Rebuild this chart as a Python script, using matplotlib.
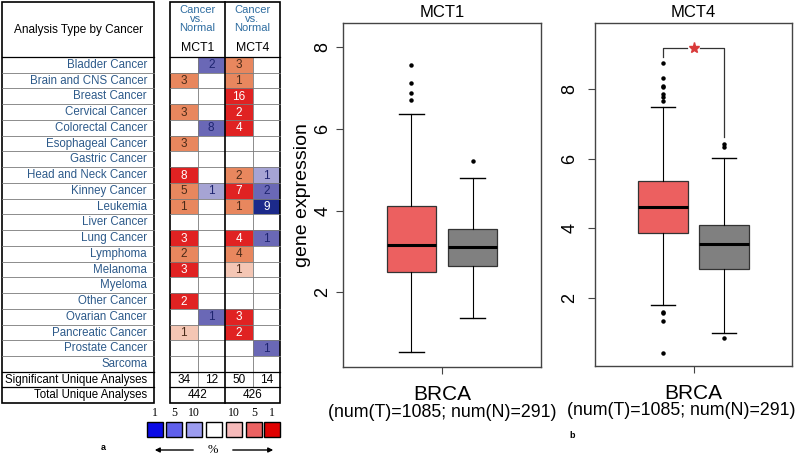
import matplotlib.pyplot as plt
from matplotlib.patches import Rectangle

plt.rcParams['font.family'] = ['Liberation Sans', 'DejaVu Sans']

# ---- panel a: Oncomine summary table ----
cancers = ['Bladder Cancer', 'Brain and CNS Cancer', 'Breast Cancer', 'Cervical Cancer',
           'Colorectal Cancer', 'Esophageal Cancer', 'Gastric Cancer', 'Head and Neck Cancer',
           'Kinney Cancer', 'Leukemia', 'Liver Cancer', 'Lung Cancer', 'Lymphoma', 'Melanoma',
           'Myeloma', 'Other Cancer', 'Ovarian Cancer', 'Pancreatic Cancer', 'Prostate Cancer',
           'Sarcoma']
# number of analyses (0 = empty cell) and gene rank class (1, 5, 10 %)
mct1_up = [0, 3, 0, 3, 0, 3, 0, 8, 5, 1, 0, 3, 2, 3, 0, 2, 0, 1, 0, 0]
mct1_up_rank = [0, 5, 0, 5, 0, 5, 0, 1, 5, 5, 0, 1, 5, 1, 0, 1, 0, 10, 0, 0]
mct1_down = [2, 0, 0, 0, 8, 0, 0, 0, 1, 0, 0, 0, 0, 0, 0, 0, 1, 0, 0, 0]
mct1_down_rank = [5, 0, 0, 0, 5, 0, 0, 0, 10, 0, 0, 0, 0, 0, 0, 0, 5, 0, 0, 0]
mct4_up = [3, 1, 16, 2, 4, 0, 0, 2, 7, 1, 0, 4, 4, 1, 0, 0, 3, 2, 0, 0]
mct4_up_rank = [5, 5, 1, 1, 1, 0, 0, 5, 1, 5, 0, 1, 5, 10, 0, 0, 1, 1, 0, 0]
mct4_down = [0, 0, 0, 0, 0, 0, 0, 1, 2, 9, 0, 1, 0, 0, 0, 0, 0, 0, 1, 0]
mct4_down_rank = [0, 0, 0, 0, 0, 0, 0, 10, 5, 1, 0, 5, 0, 0, 0, 0, 0, 0, 5, 0]
sig_counts = [34, 12, 50, 14]
total_counts = [442, 426]
genes = ['MCT1', 'MCT4']
legend_ranks = ['1', '5', '10', '', '10', '5', '1']

# ---- panel b: GEPIA boxplots (whislo, q1, med, q3, whishi) ----
mct1_tumor_box = [0.54, 2.49, 3.15, 4.10, 6.37]
mct1_normal_box = [1.37, 2.64, 3.10, 3.56, 4.80]
mct4_tumor_box = [1.80, 3.86, 4.60, 5.35, 7.48]
mct4_normal_box = [0.99, 2.83, 3.54, 4.09, 6.01]
mct1_tumor_out = [7.56, 7.12, 6.88, 6.71]
mct1_normal_out = [5.20]
mct4_tumor_out = [8.75, 8.32, 8.09, 8.06, 7.86, 7.77, 7.65, 1.60, 1.57, 1.34, 0.42]
mct4_normal_out = [6.42, 6.33, 0.85]
sample_note = '(num(T)=1085; num(N)=291)'

up_col = {1: '#E02222', 5: '#E8875E', 10: '#F4C6B4'}
down_col = {1: '#1C2A8A', 5: '#6A68B6', 10: '#A6A4D4'}
legend_cols = ['#0A0AE6', '#5F5FEB', '#9C9CF0', '#FFFFFF', '#F6BABA', '#EC6262', '#E00000']

fig = plt.figure(figsize=(8, 4.69), dpi=100)
tab = fig.add_axes([0, 0, 1, 1])
tab.set_xlim(0, 800)
tab.set_ylim(469, 0)
tab.axis('off')

XL0, XL1 = 2, 154
XR0, XR1 = 170, 280
cw = (XR1 - XR0) / 4
col_x = [XR0 + i * cw for i in range(5)]
Y0, YH = 2, 57
rh = 15.75
Ysig = YH + rh * len(cancers)
Ytot = Ysig + 15.5
Ybot = Ytot + 15.5

label_col = '#2D5A8A'
tab.text((XL0 + XL1) / 2, 30, 'Analysis Type by Cancer', ha='center', va='center', fontsize=8.5)
for i, name in enumerate(cancers):
    tab.text(XL1 - 7, YH + rh * (i + 0.5), name, ha='right', va='center', fontsize=8.3, color=label_col)
tab.text(XL1 - 7, Ysig + 7.7, 'Significant Unique Analyses', ha='right', va='center', fontsize=8.3)
tab.text(XL1 - 7, Ytot + 7.7, 'Total Unique Analyses', ha='right', va='center', fontsize=8.3)

columns = [(mct1_up, mct1_up_rank, 'up'), (mct1_down, mct1_down_rank, 'down'),
           (mct4_up, mct4_up_rank, 'up'), (mct4_down, mct4_down_rank, 'down')]
for j, (counts, ranks, kind) in enumerate(columns):
    for i, (n, r) in enumerate(zip(counts, ranks)):
        if n == 0:
            continue
        fc = up_col[r] if kind == 'up' else down_col[r]
        tab.add_patch(Rectangle((col_x[j], YH + i * rh), cw, rh, facecolor=fc, edgecolor='none'))
        if r == 1:
            tc = 'white'
        else:
            tc = '#4A2A18' if kind == 'up' else '#1E2470'
        tab.text(col_x[j] + cw / 2, YH + rh * (i + 0.5) + 0.5, str(n), ha='center', va='center',
                 fontsize=8.5, color=tc)
    tab.text(col_x[j] + cw / 2, Ysig + 7.7, str(sig_counts[j]), ha='center', va='center', fontsize=8.5)

# header: one multi-line text per gene pair
for g, gene in enumerate(genes):
    cx = col_x[2 * g + 1]
    tab.text(cx, 19, 'Cancer\nvs.\nNormal', ha='center', va='center', fontsize=8,
             color='#2F6DA0', linespacing=0.82)
    tab.text(cx, 48, gene, ha='center', va='center', fontsize=8.8)
    tab.text(cx, Ytot + 7.7, str(total_counts[g]), ha='center', va='center', fontsize=8.5)

# grid lines
for i in range(1, len(cancers)):
    y = YH + i * rh
    tab.plot([XL0, XL1], [y, y], color='#7A7A7A', lw=0.6)
    tab.plot([XR0, XR1], [y, y], color='#7A7A7A', lw=0.6)
for x in (col_x[1], col_x[3]):
    tab.plot([x, x], [YH, Ytot], color='#7A7A7A', lw=0.6)
for x0, x1 in ((XL0, XL1), (XR0, XR1)):
    for y in (YH, Ysig, Ytot):
        tab.plot([x0, x1], [y, y], color='black', lw=0.9)
    tab.add_patch(Rectangle((x0, Y0), x1 - x0, Ybot - Y0, fill=False, edgecolor='black', lw=1.2))
tab.plot([col_x[2], col_x[2]], [Y0, Ybot], color='black', lw=1.2)

# legend
sq_x = [147, 166, 186, 206, 226, 246, 264]
for x, c, lab in zip(sq_x, legend_cols, legend_ranks):
    tab.add_patch(Rectangle((x, 422), 15.5, 15.5, facecolor=c, edgecolor='black', lw=1))
    tab.text(x + 7.8, 413, lab, ha='center', va='center', fontsize=8.5, family='Liberation Serif')
tab.text(213, 450, '%', ha='center', va='center', fontsize=9, family='Liberation Serif')
tab.annotate('', xy=(152, 450), xytext=(196, 450),
             arrowprops=dict(arrowstyle='-|>', color='black', lw=1, mutation_scale=7))
tab.annotate('', xy=(276, 450), xytext=(230, 450),
             arrowprops=dict(arrowstyle='-|>', color='black', lw=1, mutation_scale=7))
tab.text(103, 447, 'a', ha='center', va='center', fontsize=6.5, fontweight='bold')
tab.text(572, 435, 'b', ha='center', va='center', fontsize=6.5, fontweight='bold')


def draw_box(ax, tumor, normal, t_out, n_out, title, ylim, yticks, lpad, note_x):
    stats = []
    for vals, out in ((tumor, t_out), (normal, n_out)):
        lo, q1, med, q3, hi = vals
        stats.append(dict(whislo=lo, q1=q1, med=med, q3=q3, whishi=hi, fliers=out))
    bp = ax.bxp(stats, positions=[-0.31, 0.31], widths=0.5, capwidths=0.25, patch_artist=True,
                showfliers=True,
                flierprops=dict(marker='o', ms=2.2, mfc='black', mec='black'),
                medianprops=dict(color='black', lw=2.2),
                boxprops=dict(edgecolor='#333333', lw=0.9),
                whiskerprops=dict(color='black', lw=0.8),
                capprops=dict(color='black', lw=1))
    for patch, c in zip(bp['boxes'], ['#EC6060', '#808080']):
        patch.set_facecolor(c)
    ax.set_xlim(-1, 1)
    ax.set_ylim(*ylim)
    ax.set_yticks(yticks)
    ax.set_xticks([0], ['BRCA'])
    ax.tick_params(axis='x', labelsize=15, pad=8, length=5, color='#444444')
    ax.tick_params(axis='y', labelsize=13, pad=lpad, length=5, color='#444444')
    for lab in ax.get_yticklabels():
        lab.set_rotation(90)
        lab.set_va('center')
    for sp in ax.spines.values():
        sp.set_color('#444444')
        sp.set_linewidth(1)
    ax.set_title(title, fontsize=12, pad=4)
    ax.text(note_x, -0.131, sample_note, transform=ax.transAxes, ha='center', va='center', fontsize=12.8)


ax1 = fig.add_axes([343 / 800, 1 - 367 / 469, 198 / 800, 344 / 469])
draw_box(ax1, mct1_tumor_box, mct1_normal_box, mct1_tumor_out, mct1_normal_out,
         'MCT1', (0.17, 8.59), [2, 4, 6, 8], 3.5, 0.5)
ax1.set_ylabel('gene expression', fontsize=14, labelpad=2)

ax2 = fig.add_axes([595 / 800, 1 - 366 / 469, 197 / 800, 343 / 469])
draw_box(ax2, mct4_tumor_box, mct4_normal_box, mct4_tumor_out, mct4_normal_out,
         'MCT4', (0.04, 9.9), [2, 4, 6, 8], 7, 0.44)

# significance bracket
sig_top = 9.18
ax2.plot([-0.31, -0.31, -0.07], [8.92, sig_top, sig_top], color='#333333', lw=0.9)
ax2.plot([0.07, 0.31, 0.31], [sig_top, sig_top, 6.62], color='#333333', lw=0.9)
ax2.plot([0], [sig_top], marker='*', ms=8, color='#D93A3A', mec='#D93A3A')

fig.savefig('out.png', dpi=100)
